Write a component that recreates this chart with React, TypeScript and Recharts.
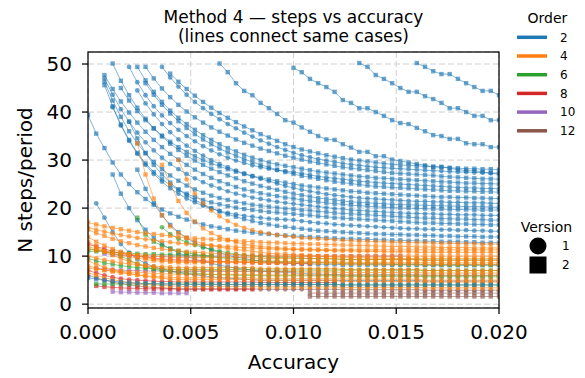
import React from 'react';
import { LineChart, Line, XAxis, YAxis, CartesianGrid } from 'recharts';

// accuracy grid of the cases (x positions of the points)
const ACC = [0, 0.0004, 0.0008, 0.0012, 0.0016, 0.002, 0.0024, 0.0028, 0.0032, 0.0036, 0.004, 0.0044, 0.0048, 0.0052, 0.0056, 0.006, 0.0064, 0.0068, 0.0072, 0.0076, 0.008, 0.0084, 0.0088, 0.0092, 0.0096, 0.01, 0.0104, 0.0108, 0.0112, 0.0116, 0.012, 0.0124, 0.0128, 0.0132, 0.0136, 0.014, 0.0144, 0.0148, 0.0152, 0.0156, 0.016, 0.0164, 0.0168, 0.0172, 0.0176, 0.018, 0.0184, 0.0188, 0.0192, 0.0196, 0.02];
const X_TICKS = [0, 0.005, 0.01, 0.015, 0.02];
const Y_TICKS = [0, 10, 20, 30, 40, 50];
const ORDERS = [2, 4, 6, 8, 10, 12];
const VERSIONS = [1, 2];
const COLORS: Record<number, string> = { 2: '#1f77b4', 4: '#ff7f0e', 6: '#2ca02c', 8: '#d62728', 10: '#9467bd', 12: '#8c564b' };

type S = { order: number; version: number; from: number; n: number[] };

// ---- order 2 (blue) ----
const A1: S = { order: 2, version: 2, from: 40, n: [50.2, 49.4, 48.5, 47.9, 47.9, 46.9, 46.0, 45.2, 44.4, 44.4, 43.5] };
const A2: S = { order: 2, version: 2, from: 33, n: [50.2, 49.4, 47.7, 46.9, 46.0, 45.0, 44.2, 44.2, 43.3, 42.7, 41.9, 40.8, 40.8, 40.0, 39.2, 39.2, 38.3, 38.3] };
const A3: S = { order: 2, version: 2, from: 25, n: [49.2, 48.3, 46.9, 46.0, 45.2, 44.2, 42.5, 41.9, 40.8, 40.8, 40.0, 39.2, 38.3, 37.7, 37.5, 36.7, 36.0, 35.2, 35.0, 34.4, 34.4, 33.5, 33.3, 33.3, 32.7, 32.7] };
const B0: S = { order: 2, version: 2, from: 16, n: [50.1, 48.3, 46.0, 44.4, 43.5, 41.9, 40.8, 39.6, 38.3, 37.8, 36.8, 35.9, 35.0, 34.3, 34.2, 33.3, 32.6, 31.7, 31.7, 30.8, 30.8, 30.1, 29.8, 29.5, 29.2, 28.9, 28.6, 28.6, 28.3, 28.0, 27.8, 27.8, 27.5, 27.3, 27.0] };
const F1: S = { order: 2, version: 2, from: 10, n: [48, 46.3, 44.8, 43.4, 42.1, 40.9, 39.8, 38.8, 37.9, 37, 36.2, 35.4, 34.7, 34, 33.3, 32.7, 32.2, 31.8, 31.4, 31, 30.7, 30.4, 30.1, 29.9, 29.7, 29.5, 29.3, 29.1, 29, 28.9, 28.8, 28.7, 28.6, 28.5, 28.4, 28.3, 28.2, 28.2, 28.1, 28.1, 28] };
const F2: S = { order: 2, version: 1, from: 9, n: [49.4, 47.2, 45.3, 43.6, 42.1, 40.8, 39.6, 38.5, 37.5, 36.6, 35.7, 34.9, 34.1, 33.4, 32.7, 32.1, 31.5, 31, 30.6, 30.2, 29.9, 29.6, 29.3, 29.1, 28.9, 28.7, 28.5, 28.4, 28.3, 28.2, 28.1, 28, 27.9, 27.8, 27.7, 27.6, 27.5, 27.5, 27.4, 27.4, 27.3, 27.3] };
const F3: S = { order: 2, version: 2, from: 7, n: [49.4, 47, 44.9, 43.1, 41.5, 40.1, 38.9, 37.8, 36.8, 35.9, 35.1, 34.3, 33.6, 33, 32.4, 31.9, 31.4, 30.9, 30.5, 30.1, 29.7, 29.4, 29.1, 28.8, 28.5, 28.3, 28.1, 27.9, 27.7, 27.5, 27.3, 27.2, 27.1, 27, 26.9, 26.8, 26.6, 26.5, 26.4, 26.3, 26.2, 26.1, 26.1, 26] };
const F4: S = { order: 2, version: 2, from: 6, n: [49.4, 46.6, 44.2, 42.1, 40.3, 38.8, 37.5, 36.3, 35.2, 34.2, 33.3, 32.5, 31.8, 31.1, 30.5, 30, 29.5, 29.1, 28.8, 28.5, 28.2, 27.9, 27.6, 27.4, 27.2, 27, 26.8, 26.6, 26.5, 26.3, 26.2, 26.1, 26, 25.9, 25.8, 25.7, 25.6, 25.5, 25.4, 25.3, 25.2, 25.2, 25.1, 25.1, 25] };
const F5: S = { order: 2, version: 1, from: 5, n: [49.4, 46.2, 43.5, 41.2, 39.3, 37.7, 36.3, 35, 33.9, 32.9, 32, 31.2, 30.5, 29.9, 29.4, 28.9, 28.5, 28.2, 27.9, 27.7, 27.5, 27.2, 26.9, 26.6, 26.4, 26.2, 26, 25.8, 25.6, 25.5, 25.3, 25.2, 25.1, 25, 24.9, 24.8, 24.7, 24.6, 24.5, 24.4, 24.3, 24.2, 24.2, 24.1, 24.1, 24] };
const F6: S = { order: 2, version: 2, from: 7, n: [46, 43.6, 41.5, 39.7, 38.1, 36.7, 35.4, 34.3, 33.3, 32.4, 31.6, 30.9, 30.2, 29.6, 29, 28.5, 28, 27.5, 27.1, 26.7, 26.4, 26.1, 25.8, 25.5, 25.3, 25.1, 24.9, 24.7, 24.5, 24.4, 24.3, 24.2, 24.1, 24, 23.9, 23.8, 23.7, 23.6, 23.6, 23.5, 23.5, 23.4, 23.4, 23.3] };
const F7: S = { order: 2, version: 2, from: 4, n: [45, 42.4, 40.2, 38.3, 36.6, 35.1, 33.8, 32.7, 31.7, 30.8, 30, 29.3, 28.7, 28.1, 27.6, 27.1, 26.7, 26.3, 26, 25.6, 25.3, 25, 24.7, 24.5, 24.3, 24.1, 23.9, 23.7, 23.5, 23.4, 23.2, 23.1, 23, 22.9, 22.8, 22.7, 22.6, 22.5, 22.4, 22.3, 22.3, 22.2, 22.2, 22.1, 22.1, 22, 22] };
const F8: S = { order: 2, version: 1, from: 6, n: [44.5, 41.8, 39.5, 37.5, 35.8, 34.3, 33, 31.9, 30.9, 30, 29.2, 28.5, 27.8, 27.2, 26.6, 26.1, 25.6, 25.1, 24.6, 24.2, 23.8, 23.5, 23.2, 22.9, 22.7, 22.5, 22.3, 22.1, 22, 21.9, 21.8, 21.7, 21.6, 21.5, 21.4, 21.4, 21.3, 21.3, 21.2, 21.2, 21.1, 21.1, 21.1, 21, 21] };
const F9: S = { order: 2, version: 2, from: 3, n: [50.1, 46.5, 43.5, 40.9, 38.6, 36.6, 34.9, 33.4, 32.1, 30.9, 29.9, 29, 28.2, 27.5, 26.8, 26.2, 25.6, 25.1, 24.6, 24.2, 23.8, 23.4, 23, 22.7, 22.4, 22.1, 21.9, 21.7, 21.5, 21.3, 21.2, 21.1, 21, 20.9, 20.8, 20.7, 20.7, 20.6, 20.6, 20.5, 20.5, 20.4, 20.4, 20.3, 20.3, 20.3, 20.2, 20.2] };
const F10: S = { order: 2, version: 2, from: 2, n: [47.7, 44.8, 42.2, 39.9, 37.8, 35.9, 34.2, 32.7, 31.3, 30.1, 29, 28, 27.1, 26.3, 25.6, 25, 24.4, 23.9, 23.5, 23.1, 22.8, 22.5, 22.2, 22, 21.7, 21.5, 21.3, 21.1, 20.9, 20.8, 20.6, 20.5, 20.4, 20.3, 20.2, 20.1, 20, 20, 19.9, 19.9, 19.8, 19.8, 19.7, 19.7, 19.7, 19.6, 19.6, 19.6, 19.6] };
const F11: S = { order: 2, version: 1, from: 2, n: [47, 43.6, 40.6, 38, 35.7, 33.7, 32, 30.5, 29.2, 28.1, 27.1, 26.2, 25.4, 24.7, 24.1, 23.5, 23, 22.6, 22.2, 21.9, 21.6, 21.3, 21.1, 20.9, 20.7, 20.5, 20.3, 20.1, 19.9, 19.8, 19.6, 19.5, 19.4, 19.3, 19.2, 19.1, 19, 18.9, 18.9, 18.8, 18.8, 18.7, 18.7, 18.6, 18.6, 18.6, 18.5, 18.5, 18.5] };
const F12: S = { order: 2, version: 2, from: 2, n: [46.3, 42.4, 39, 36, 33.5, 31.4, 29.6, 28.1, 26.8, 25.7, 24.7, 23.9, 23.2, 22.6, 22.1, 21.7, 21.3, 21, 20.7, 20.5, 20.3, 20.1, 19.9, 19.8, 19.6, 19.5, 19.3, 19.2, 19, 18.9, 18.8, 18.7, 18.6, 18.5, 18.4, 18.3, 18.2, 18.1, 18, 17.9, 17.9, 17.8, 17.8, 17.7, 17.7, 17.6, 17.6, 17.5, 17.5] };
const F13: S = { order: 2, version: 2, from: 2, n: [45.6, 41.2, 37.4, 34.2, 31.5, 29.3, 27.5, 26, 24.8, 23.8, 23, 22.3, 21.7, 21.2, 20.8, 20.4, 20.1, 19.8, 19.6, 19.4, 19.2, 19.1, 18.9, 18.8, 18.6, 18.5, 18.3, 18.2, 18, 17.9, 17.8, 17.7, 17.6, 17.5, 17.4, 17.3, 17.2, 17.1, 17, 16.9, 16.9, 16.8, 16.8, 16.7, 16.7, 16.6, 16.6, 16.5, 16.5] };
const F14: S = { order: 2, version: 1, from: 3, n: [41, 37.2, 34, 31.3, 29, 27.1, 25.5, 24.1, 23, 22, 21.2, 20.5, 19.9, 19.4, 19, 18.7, 18.4, 18.2, 18, 17.8, 17.7, 17.6, 17.5, 17.3, 17.1, 16.9, 16.8, 16.6, 16.5, 16.4, 16.3, 16.2, 16.1, 16, 15.9, 15.8, 15.7, 15.7, 15.6, 15.6, 15.5, 15.5, 15.4, 15.4, 15.3, 15.3, 15.2, 15.2] };
const F15: S = { order: 2, version: 2, from: 0, n: [39.4, 35.5, 32.5, 29.5, 27, 25, 23.3, 21.9, 20.7, 19.7, 18.9, 18.2, 17.6, 17.1, 16.6, 16.2, 15.9, 15.6, 15.3, 15.1, 14.9, 14.7, 14.6, 14.4, 14.3, 14.2, 14.1, 14, 13.9, 13.8, 13.7, 13.6, 13.6, 13.5, 13.5, 13.4, 13.4, 13.3, 13.3, 13.2, 13.2, 13.1, 13.1, 13, 13, 13, 12.9, 12.9, 12.8, 12.8, 12.8] };
const F16: S = { order: 2, version: 2, from: 5, n: [38, 34.5, 31.5, 29, 27, 25.3, 23.9, 22.7, 21.7, 20.8, 20, 19.3, 18.7, 18.2, 17.7, 17.3, 16.9, 16.6, 16.3, 16.1, 15.9, 15.7, 15.5, 15.3, 15.2, 15.1, 15, 14.9, 14.8, 14.7, 14.6, 14.6, 14.5, 14.5, 14.4, 14.4, 14.3, 14.3, 14.2, 14.2, 14.1, 14.1, 14.1, 14, 14, 14] };
const L1: S = { order: 2, version: 1, from: 1, n: [21, 18, 15, 12.5, 10.7, 9.4, 8.5, 7.8, 7.3, 6.9, 6.6, 6.3, 6.1, 5.9, 5.7, 5.5, 5.4, 5.3, 5.2, 5.1, 5, 5, 5, 5, 5, 5, 5, 5, 5, 5, 4.9, 4.9, 4.9, 4.9, 4.9, 4.9, 4.9, 4.9, 4.9, 4.9, 4.8, 4.8, 4.8, 4.8, 4.8, 4.8, 4.8, 4.8, 4.8, 4.8] };
const L2: S = { order: 2, version: 2, from: 3, n: [27, 23, 20, 17.5, 15.5, 13.8, 12.5, 11.5, 10.7, 10, 9.4, 8.9, 8.5, 8.1, 7.8, 7.5, 7.3, 7.1, 6.9, 6.8, 6.7, 6.6, 6.5, 6.4, 6.3, 6.3, 6.2, 6.2, 6.1, 6.1, 6.1, 6.1, 6.1, 6.1, 6.1, 6.1, 6.1, 6.1, 6, 6, 6, 6, 6, 6, 6, 6, 6, 6] };
const L3: S = { order: 2, version: 2, from: 6, n: [28, 24, 21, 18.5, 16.5, 15, 13.8, 12.8, 12, 11.3, 10.7, 10.2, 9.8, 9.5, 9.2, 9, 8.8, 8.7, 8.6, 8.5, 8.4, 8.4, 8.3, 8.3, 8.3, 8.2, 8.2, 8.2, 8.2, 8.2, 8.2, 8.2, 8.2, 8.2, 8.2, 8.1, 8.1, 8.1, 8.1, 8.1, 8.1, 8.1, 8.1, 8.1, 8.1] };
const L4: S = { order: 2, version: 2, from: 0, n: [5.5, 5.2, 5, 4.8, 4.6, 4.5, 4.4, 4.3, 4.3, 4.2, 4.2, 4.1, 4.1, 4.1, 4.1, 4.1, 4.1, 4.1, 4.1, 4.1, 4.1, 4.1, 4.1, 4.1, 4.1, 4.1, 4.1, 4.1, 4.1, 4.1, 4.1, 4, 4, 4, 4, 4, 4, 4, 4, 4, 4, 4, 4, 4, 4, 4, 4, 4, 4, 4, 4] };

// ---- order 4 (orange) ----
const O1: S = { order: 4, version: 2, from: 0, n: [17, 16.6, 16.2, 15.9, 15.6, 15.3, 15, 14.8, 14.6, 14.4, 14.2, 14, 13.8, 13.7, 13.6, 13.5, 13.4, 13.3, 13.2, 13.1, 13, 12.9, 12.8, 12.8, 12.7, 12.6, 12.6, 12.5, 12.5, 12.4, 12.4, 12.3, 12.3, 12.2, 12.2, 12.1, 12.1, 12, 12, 12, 11.9, 11.9, 11.9, 11.8, 11.8, 11.8, 11.8, 11.7, 11.7, 11.7, 11.7] };
const O2: S = { order: 4, version: 1, from: 0, n: [16, 15.5, 15.1, 14.7, 14.4, 14.1, 13.8, 13.5, 13.3, 13.1, 12.9, 12.7, 12.5, 12.4, 12.3, 12.2, 12.1, 12, 11.9, 11.8, 11.7, 11.6, 11.5, 11.5, 11.4, 11.4, 11.3, 11.3, 11.2, 11.2, 11.1, 11.1, 11.1, 11, 11, 11, 10.9, 10.9, 10.9, 10.9, 10.8, 10.8, 10.8, 10.8, 10.8, 10.8, 10.8, 10.8, 10.8, 10.8, 10.8] };
const O3: S = { order: 4, version: 2, from: 0, n: [15.5, 14.8, 14.2, 13.6, 13.1, 12.7, 12.3, 12, 11.7, 11.5, 11.3, 11.1, 10.9, 10.8, 10.7, 10.6, 10.5, 10.4, 10.3, 10.2, 10.2, 10.1, 10.1, 10, 10, 10, 10, 10, 10, 10, 10, 10, 10, 10, 10, 10, 10, 10, 10, 10, 10, 10, 10, 10, 10, 10, 10, 10, 10, 10, 10] };
const O4: S = { order: 4, version: 2, from: 6, n: [33.5, 27, 22, 18.5, 16.2, 14.8, 13.8, 13.1, 12.6, 12.2, 11.9, 11.6, 11.4, 11.2, 11.0, 10.8, 10.6, 10.5, 10.4, 10.3, 10.2, 10.1, 10, 9.9, 9.8, 9.8, 9.7, 9.7, 9.6, 9.6, 9.6, 9.5, 9.5, 9.5, 9.5, 9.5, 9.5, 9.5, 9.5, 9.5, 9.5, 9.5, 9.5, 9.5, 9.5] };
const O5: S = { order: 4, version: 1, from: 11, n: [30, 26, 23, 21, 19.5, 18.3, 17.3, 16.5, 15.9, 15.4, 15, 14.7, 14.4, 14.2, 14, 13.8, 13.7, 13.6, 13.5, 13.4, 13.3, 13.2, 13.1, 13.1, 13, 13, 12.9, 12.9, 12.8, 12.8, 12.8, 12.7, 12.7, 12.7, 12.6, 12.6, 12.6, 12.5, 12.5, 12.5] };
const O6: S = { order: 4, version: 2, from: 9, n: [29, 25, 21.5, 19, 17.2, 15.8, 14.8, 14, 13.4, 12.9, 12.5, 12.2, 12, 11.8, 11.7, 11.6, 11.5, 11.5, 11.4, 11.4, 11.3, 11.3, 11.3, 11.3, 11.3, 11.3, 11.3, 11.3, 11.3, 11.3, 11.3, 11.3, 11.3, 11.3, 11.3, 11.3, 11.3, 11.3, 11.3, 11.3, 11.3, 11.3] };
const O7: S = { order: 4, version: 2, from: 0, n: [11.5, 11.2, 11, 10.8, 10.6, 10.4, 10.2, 10.1, 10, 9.9, 9.8, 9.7, 9.7, 9.7, 9.7, 9.7, 9.7, 9.7, 9.7, 9.7, 9.7, 9.5, 9.5, 9.5, 9.5, 9.5, 9.5, 9.5, 9.5, 9.5, 9.5, 9.3, 9.3, 9.3, 9.3, 9.3, 9.3, 9.3, 9.3, 9.3, 9.3, 9.1, 9.1, 9.1, 9.1, 9.1, 9.1, 9.1, 9.1, 9.1, 9.1] };
const O8: S = { order: 4, version: 1, from: 0, n: [10, 9.6, 9.2, 8.9, 8.6, 8.4, 8.2, 8, 7.9, 7.8, 7.7, 7.6, 7.6, 7.6, 7.6, 7.6, 7.6, 7.6, 7.6, 7.6, 7.6, 7.4, 7.4, 7.4, 7.4, 7.4, 7.4, 7.4, 7.4, 7.4, 7.4, 7.2, 7.2, 7.2, 7.2, 7.2, 7.2, 7.2, 7.2, 7.2, 7.2, 7, 7, 7, 7, 7, 7, 7, 7, 7, 7] };
const O9: S = { order: 4, version: 2, from: 0, n: [8, 7.5, 7.1, 6.8, 6.5, 6.3, 6.1, 5.9, 5.8, 5.7, 5.6, 5.5, 5.5, 5.5, 5.5, 5.5, 5.5, 5.5, 5.5, 5.5, 5.5, 5.3, 5.3, 5.3, 5.3, 5.3, 5.3, 5.3, 5.3, 5.3, 5.3, 5.2, 5.2, 5.2, 5.2, 5.2, 5.2, 5.2, 5.2, 5.2, 5.2, 5, 5, 5, 5, 5, 5, 5, 5, 5, 5] };
const O10: S = { order: 4, version: 2, from: 0, n: [6.5, 6, 5.5, 5.1, 4.8, 4.5, 4.3, 4.1, 4, 3.9, 3.8, 3.7, 3.7, 3.7, 3.7, 3.7, 3.7, 3.7, 3.7, 3.7, 3.7, 3.6, 3.6, 3.6, 3.6, 3.6, 3.6, 3.6, 3.6, 3.6, 3.6, 3.5, 3.5, 3.5, 3.5, 3.5, 3.5, 3.5, 3.5, 3.5, 3.5, 3.4, 3.4, 3.4, 3.4, 3.4, 3.4, 3.4, 3.4, 3.4, 3.4] };
const O11: S = { order: 4, version: 2, from: 0, n: [12, 11.5, 11, 10.6, 10.2, 9.9, 9.6, 9.3, 9.1, 8.9, 8.8, 8.7, 8.7, 8.7, 8.7, 8.7, 8.7, 8.7, 8.7, 8.7, 8.7, 8.6, 8.6, 8.6, 8.6, 8.6, 8.6, 8.6, 8.6, 8.6, 8.6, 8.4, 8.4, 8.4, 8.4, 8.4, 8.4, 8.4, 8.4, 8.4, 8.4, 8.3, 8.3, 8.3, 8.3, 8.3, 8.3, 8.3, 8.3, 8.3, 8.3] };
const O12: S = { order: 4, version: 2, from: 0, n: [7.5, 7.3, 7.1, 6.9, 6.8, 6.7, 6.6, 6.5, 6.4, 6.3, 6.3, 6.2, 6.2, 6.2, 6.2, 6.2, 6.2, 6.2, 6.2, 6.2, 6.2, 6.1, 6.1, 6.1, 6.1, 6.1, 6.1, 6.1, 6.1, 6.1, 6.1, 6, 6, 6, 6, 6, 6, 6, 6, 6, 6, 6, 6, 6, 6, 6, 6, 6, 6, 6, 6] };
const O13: S = { order: 4, version: 2, from: 0, n: [14, 13, 12.2, 11.5, 10.9, 10.4, 10, 9.7, 9.4, 9.2, 9, 8.9, 8.9, 8.9, 8.9, 8.9, 8.9, 8.9, 8.9, 8.9, 8.9, 8.8, 8.8, 8.8, 8.8, 8.8, 8.8, 8.8, 8.8, 8.8, 8.8, 8.7, 8.7, 8.7, 8.7, 8.7, 8.7, 8.7, 8.7, 8.7, 8.7, 8.6, 8.6, 8.6, 8.6, 8.6, 8.6, 8.6, 8.6, 8.6, 8.6] };
const O14: S = { order: 4, version: 1, from: 0, n: [9, 8.3, 7.7, 7.2, 6.8, 6.4, 6.1, 5.8, 5.6, 5.4, 5.2, 5.1, 5.1, 5.1, 5.1, 5.1, 5.1, 5.1, 5.1, 5.1, 5.1, 4.9, 4.9, 4.9, 4.9, 4.9, 4.9, 4.9, 4.9, 4.9, 4.9, 4.7, 4.7, 4.7, 4.7, 4.7, 4.7, 4.7, 4.7, 4.7, 4.7, 4.6, 4.6, 4.6, 4.6, 4.6, 4.6, 4.6, 4.6, 4.6, 4.6] };
const O15: S = { order: 4, version: 2, from: 0, n: [13, 12, 11, 10.2, 9.5, 8.9, 8.4, 8, 7.7, 7.4, 7.2, 7.1, 7.1, 7.1, 7, 7, 7, 6.9, 6.9, 6.9, 6.9, 6.8, 6.8, 6.8, 6.8, 6.8, 6.7, 6.7, 6.7, 6.7, 6.7, 6.6, 6.6, 6.6, 6.6, 6.6, 6.6, 6.6, 6.6, 6.6, 6.6, 6.5, 6.5, 6.5, 6.5, 6.5, 6.5, 6.5, 6.5, 6.5, 6.5] };

// ---- order 6 (green) ----
const G1: S = { order: 6, version: 2, from: 6, n: [18, 14.5, 13, 12.2, 11.6, 11.1, 10.7, 10.4, 10.1, 9.9, 9.7, 9.5, 9.3, 9.2, 9.1, 9, 9, 8.9, 8.9, 8.8, 8.8, 8.7, 8.7, 8.6, 8.6, 8.5, 8.5, 8.5, 8.4, 8.4, 8.4, 8.3, 8.3, 8.3, 8.3, 8.2, 8.2, 8.2, 8.2, 8.2, 8.2, 8.2, 8.2, 8.2, 8.2] };
const G2: S = { order: 6, version: 1, from: 9, n: [16, 14.6, 13.6, 12.9, 12.3, 11.8, 11.4, 11, 10.7, 10.4, 10.2, 10, 9.9, 9.8, 9.7, 9.7, 9.6, 9.6, 9.5, 9.5, 9.4, 9.4, 9.3, 9.3, 9.3, 9.3, 9.3, 9.3, 9.3, 9.3, 9.3, 9.3, 9.2, 9.2, 9.2, 9.2, 9.2, 9.2, 9.2, 9.2, 9.2, 9.2] };
const G3: S = { order: 6, version: 2, from: 0, n: [11.5, 11.3, 11, 10.6, 10, 9.2, 8.4, 7.8, 7.3, 7, 6.8, 6.6, 6.5, 6.4, 6.3, 6.2, 6.1, 6.1, 6, 6, 6, 5.9, 5.9, 5.9, 5.9, 5.9, 5.9, 5.9, 5.9, 5.9, 5.9, 5.8, 5.8, 5.8, 5.8, 5.8, 5.8, 5.8, 5.8, 5.8, 5.8, 5.7, 5.7, 5.7, 5.7, 5.7, 5.7, 5.7, 5.7, 5.7, 5.7] };
const G4: S = { order: 6, version: 2, from: 1, n: [4.2, 4.2, 4.2, 4.2, 4.2, 4.2, 4.2, 4.2, 4.2, 4.2, 4.2, 4.2, 4.2, 4.2, 4.2, 4.1, 4.1, 4.1, 4.1, 4.1, 4.1, 4.1, 4.1, 4.1, 4.1, 4.1, 4.1, 4.1, 4.1, 4.1, 4, 4, 4, 4, 4, 4, 4, 4, 4, 4, 4, 4, 4, 4, 4, 4, 4, 4, 4, 4] };
const G5: S = { order: 6, version: 2, from: 0, n: [11, 11, 10.9, 10.8, 10.7, 10.6, 10.5, 10.4, 10.4, 10.3, 10.3, 10.2, 10.2, 10.1, 10.1, 10.1] };
const G6: S = { order: 6, version: 2, from: 0, n: [9.5, 9, 8.6, 8.3, 8, 7.8, 7.6, 7.5, 7.4, 7.3, 7.3, 7.2, 7.2, 7.2, 7.2, 7.2, 7.2, 7.2, 7.2, 7.2, 7.2, 7.1, 7.1, 7.1, 7.1, 7.1, 7.1, 7.1, 7.1, 7.1, 7.1, 7.1, 7.1, 7.1, 7.1, 7.1, 7.1, 7.1, 7.1, 7.1, 7.1, 7, 7, 7, 7, 7, 7, 7, 7, 7, 7] };

// ---- order 8 (red) ----
const R1: S = { order: 8, version: 2, from: 0, n: [12.5, 12, 11.5, 11, 10.6, 10.3, 10, 9.8, 9.6, 9.4, 9.3, 9.2, 9.1, 9, 9, 8.9, 8.9, 8.8, 8.8, 8.7, 8.7, 8.6, 8.6, 8.6, 8.5, 8.5, 8.5, 8.5] };
const R2: S = { order: 8, version: 1, from: 0, n: [7, 6.5, 6, 5.6, 5.3, 5.1, 5, 4.9, 4.8, 4.7, 4.7, 4.6, 4.6, 4.6, 4.6, 4.6, 4.6, 4.6, 4.6, 4.6, 4.6, 4.5, 4.5, 4.5, 4.5, 4.5, 4.5, 4.5, 4.5, 4.5, 4.5] };
const R3: S = { order: 8, version: 2, from: 1, n: [3.8, 3.6, 3.5, 3.4, 3.3, 3.3, 3.2, 3.2, 3.2, 3.2, 3.1, 3.1, 3.1, 3.1, 3.1, 3.1, 3.1, 3.1, 3.1, 3.1] };

// ---- order 10 (purple) ----
const P1: S = { order: 10, version: 2, from: 3, n: [2.6, 2.5, 2.5, 2.4, 2.4, 2.4, 2.3, 2.3, 2.3, 2.3] };
const P2: S = { order: 10, version: 2, from: 2, n: [10.5, 10.3, 10.2, 10.1, 10, 10, 10, 10, 10, 10, 10, 10, 10, 10, 10, 10, 10, 10, 10, 10, 10, 10, 10, 10, 10, 10, 10, 10, 10, 10, 10, 10, 10, 10, 10, 10, 10] };
const P3: S = { order: 10, version: 1, from: 1, n: [7.5, 7.3, 7.2, 7.1, 7, 7, 6.9, 6.9, 6.9, 6.8, 6.8, 6.8, 6.8, 6.8, 6.8, 6.8, 6.8, 6.8, 6.8, 6.8, 6.8, 6.8, 6.8, 6.8, 6.8] };

// ---- order 12 (brown) ----
const BR1: S = { order: 12, version: 2, from: 27, n: [2.3, 2.3, 2.3, 2.3, 2.3, 2.3, 2.3, 2.3, 2.3, 2.3, 2.3, 2.3, 2.3, 2.3, 2.3, 2.3, 2.3, 2.3, 2.3, 2.3, 2.3, 2.3, 2.3, 2.3] };
const BR2: S = { order: 12, version: 2, from: 27, n: [1.6, 1.6, 1.6, 1.6, 1.6, 1.6, 1.6, 1.6, 1.6, 1.6, 1.6, 1.6, 1.6, 1.6, 1.6, 1.6, 1.6, 1.6, 1.6, 1.6, 1.6, 1.6, 1.6, 1.6] };
const BR3: S = { order: 12, version: 1, from: 0, n: [6, 5.5, 5, 4.6, 4.3, 4, 3.8, 3.6, 3.5, 3.4, 3.3, 3.2, 3.2, 3.2, 3.2, 3.2, 3.2, 3.2, 3.2, 3.2, 3.2, 3.1, 3.1, 3.1, 3.1, 3.1, 3.1, 3.1, 3.1, 3.1, 3.1, 3, 3, 3, 3, 3, 3, 3, 3, 3, 3, 2.9, 2.9, 2.9, 2.9, 2.9, 2.9, 2.9, 2.9, 2.9, 2.9] };

const SERIES: S[] = [
  A1, A2, A3, B0, F1, F2, F3, F4, F5, F6, F7, F8, F9, F10, F11, F12, F13, F14, F15, F16,
  L2, L3, L1, BR1, BR2, BR3, P1, P2, P3, R1, R2, R3, G1, G2, G3, G4, G5, G6,
  O1, O2, O3, O4, O5, O6, O7, O8, O9, O10, O11, O12, O13, O14, O15, L4,
];

const rows = ACC.map((x, i) => {
  const r: Record<string, number | null> = { x };
  SERIES.forEach((s, k) => {
    const j = i - s.from;
    r['s' + k] = j >= 0 && j < s.n.length ? s.n[j] : null;
  });
  return r;
});

const FONT = 'DejaVu Sans, Verdana, sans-serif';

const makeDot = (color: string, version: number) => (p: any) => {
  const { cx, cy, index, dataKey } = p;
  const key = `${dataKey}-${index}`;
  if (typeof cx !== 'number' || typeof cy !== 'number' || !isFinite(cy) || p.value == null) return <g key={key} />;
  if (version === 1) return <circle key={key} cx={cx} cy={cy} r={2.4} fill={color} fillOpacity={0.65} stroke="none" />;
  return <rect key={key} x={cx - 2.2} y={cy - 2.2} width={4.4} height={4.4} fill={color} fillOpacity={0.65} stroke="none" />;
};

const PLOT = { left: 88, top: 52, right: 499, bottom: 308 };

export default function App() {
  return (
    <div style={{ position: 'absolute', left: 0, top: 0, width: 585, height: 378, background: '#fff', fontFamily: FONT }}>
      <LineChart width={585} height={378} data={rows} margin={{ top: PLOT.top, right: 585 - PLOT.right, bottom: 0, left: 0 }}>
        <CartesianGrid stroke="#cfcfcf" strokeDasharray="6 3" strokeWidth={1} />
        <XAxis
          type="number"
          dataKey="x"
          domain={[0, 0.02]}
          ticks={X_TICKS}
          interval={0}
          allowDataOverflow
          height={378 - PLOT.bottom}
          axisLine={false}
          tickLine={{ stroke: '#000', strokeWidth: 1.25 }}
          tickSize={6}
          tickMargin={11}
          tickFormatter={(v: number) => v.toFixed(3)}
          tick={{ fontSize: 20, fill: '#000', fontFamily: FONT }}
        />
        <YAxis
          type="number"
          domain={[-0.8, 52.5]}
          ticks={Y_TICKS}
          interval={0}
          allowDataOverflow
          width={PLOT.left}
          axisLine={false}
          tickLine={{ stroke: '#000', strokeWidth: 1.25 }}
          tickSize={6}
          tickMargin={10}
          tick={{ fontSize: 20, fill: '#000', fontFamily: FONT }}
        />
        {SERIES.map((s, k) => (
          <Line
            key={'s' + k}
            dataKey={'s' + k}
            type="linear"
            stroke={COLORS[s.order]}
            strokeOpacity={0.55}
            strokeWidth={1}
            dot={makeDot(COLORS[s.order], s.version)}
            activeDot={false}
            connectNulls={false}
            isAnimationActive={false}
          />
        ))}
      </LineChart>
      <svg width={585} height={378} style={{ position: 'absolute', left: 0, top: 0, pointerEvents: 'none' }}>
        <rect x={PLOT.left} y={PLOT.top} width={PLOT.right - PLOT.left} height={PLOT.bottom - PLOT.top} fill="none" stroke="#000" strokeWidth={1.25} />
        <text x={293.5} y={22.5} textAnchor="middle" fontSize={17} fontFamily={FONT} fill="#000">Method 4 — steps vs accuracy</text>
        <text x={293.5} y={41.5} textAnchor="middle" fontSize={17} fontFamily={FONT} fill="#000">(lines connect same cases)</text>
        <text x={293.5} y={369} textAnchor="middle" fontSize={20} fontFamily={FONT} fill="#000">Accuracy</text>
        <text x={32} y={180} textAnchor="middle" fontSize={20} fontFamily={FONT} fill="#000" transform="rotate(-90 32 180)">N steps/period</text>
        <text x={547.5} y={23} textAnchor="middle" fontSize={14} fontFamily={FONT} fill="#000">Order</text>
        {ORDERS.map((o, i) => (
          <g key={o}>
            <line x1={517} x2={547} y1={37.3 + i * 18.7} y2={37.3 + i * 18.7} stroke={COLORS[o]} strokeWidth={3.5} />
            <text x={560} y={37.3 + i * 18.7 + 4.3} fontSize={12} fontFamily={FONT} fill="#000">{o}</text>
          </g>
        ))}
        <text x={546.5} y={232} textAnchor="middle" fontSize={14} fontFamily={FONT} fill="#000">Version</text>
        {VERSIONS.map((v, i) => (
          <g key={v}>
            {v === 1 ? (
              <circle cx={538} cy={246 + i * 19} r={8.5} fill="#000" />
            ) : (
              <rect x={529.5} y={246 + i * 19 - 8.5} width={17} height={17} fill="#000" />
            )}
            <text x={562} y={246 + i * 19 + 4.3} fontSize={12} fontFamily={FONT} fill="#000">{v}</text>
          </g>
        ))}
      </svg>
    </div>
  );
}
